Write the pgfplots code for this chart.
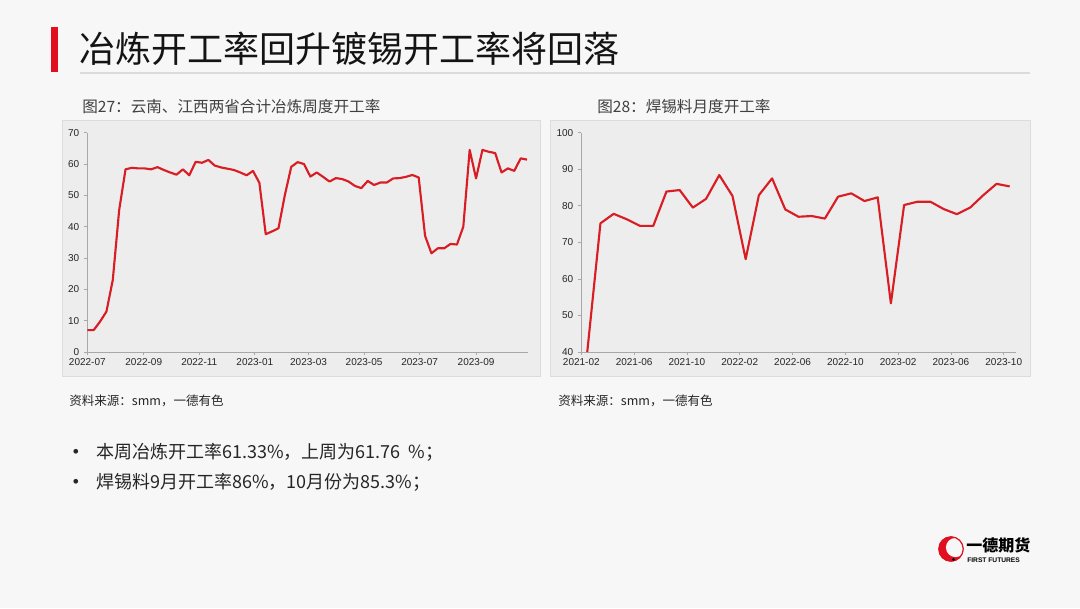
\documentclass[border=0pt]{standalone}
\usepackage{fontspec}
\usepackage{pgfplots}
\pgfplotsset{compat=1.18}
\setmainfont{Noto Sans CJK SC}
\newfontfamily\tickfont{Liberation Sans}
\definecolor{slidebg}{HTML}{F7F7F7}
\definecolor{panelbg}{HTML}{EEEDED}
\definecolor{panelbd}{HTML}{DCDCDC}
\definecolor{linered}{HTML}{D81E24}
\definecolor{barred}{HTML}{E01020}
\definecolor{axgray}{HTML}{A8A8A8}
\definecolor{txt}{HTML}{262626}

\pgfplotstableread{
x y
0 7.0
1 7.0
2 9.7
3 12.9
4 23.0
5 45.3
6 58.3
7 58.8
8 58.6
9 58.6
10 58.3
11 59.0
12 58.1
13 57.3
14 56.6
15 58.3
16 56.4
17 60.7
18 60.4
19 61.3
20 59.5
21 58.9
22 58.5
23 58.1
24 57.3
25 56.4
26 57.8
27 54.0
28 37.6
29 38.5
30 39.5
31 50.1
32 59.1
33 60.6
34 60.0
35 56.0
36 57.3
37 55.9
38 54.4
39 55.5
40 55.2
41 54.4
42 53.0
43 52.3
44 54.6
45 53.3
46 54.1
47 54.1
48 55.4
49 55.5
50 55.9
51 56.5
52 55.7
53 37.1
54 31.5
55 33.1
56 33.1
57 34.5
58 34.3
59 40.0
60 64.5
61 55.4
62 64.5
63 63.9
64 63.5
65 57.3
66 58.6
67 57.8
68 61.8
69 61.4
}\smelter

\pgfplotstableread{
x y
0.45 40.0
1.45 75.2
2.45 77.8
3.45 76.3
4.45 74.5
5.45 74.5
6.45 83.9
7.45 84.3
8.45 79.5
9.45 81.9
10.45 88.4
11.45 82.7
12.45 65.4
13.45 82.9
14.45 87.5
15.45 79.0
16.45 77.0
17.45 77.2
18.45 76.5
19.45 82.5
20.45 83.4
21.45 81.3
22.45 82.3
23.45 53.3
24.45 80.2
25.45 81.1
26.45 81.1
27.45 79.1
28.45 77.7
29.45 79.5
30.45 82.9
31.45 86.0
32.45 85.3
}\solder

\pgfplotsset{
  panelaxis/.style={
    scale only axis,
    anchor=south west,
    axis x line*=bottom,
    axis y line*=left,
    axis line style={-, draw=axgray, line width=0.6pt},
    tick style={draw=axgray, line width=0.5pt},
    tick align=outside,
    major tick length=2.5pt,
    tick label style={font=\tickfont\fontsize{7.5}{9}\selectfont, text=txt},
    /pgf/number format/assume math mode=true,
    xticklabel style={yshift=1pt},
    axis background/.style={fill=panelbg},
    clip=true,
  }
}

\begin{document}
\begin{tikzpicture}
\begin{scope}[shift={(0pt,456pt)}, x=0.75pt, y=-0.75pt]
\fill[slidebg] (0,0) rectangle (1080,608);
\fill[barred] (51,27) rectangle (58,72);
\fill[black!14] (80,72) rectangle (1030,74.5);
\node[anchor=west, inner sep=0, font=\fontsize{27}{30}\selectfont, text=black!92] at (79,49) {冶炼开工率回升镀锡开工率将回落};
\filldraw[fill=panelbg, draw=panelbd, line width=0.6pt] (62,120) rectangle (540,376);
\filldraw[fill=panelbg, draw=panelbd, line width=0.6pt] (550,120) rectangle (1030,376);
\node[anchor=west, inner sep=0, font=\fontsize{11.7}{13}\selectfont, text=black!75] at (82,107) {图27：云南、江西两省合计冶炼周度开工率};
\node[anchor=west, inner sep=0, font=\fontsize{11.7}{13}\selectfont, text=black!75] at (597,107) {图28：焊锡料月度开工率};
\node[anchor=west, inner sep=0, font=\fontsize{9.4}{11}\selectfont, text=txt] at (69,401) {资料来源：smm，一德有色};
\node[anchor=west, inner sep=0, font=\fontsize{9.4}{11}\selectfont, text=txt] at (558,401) {资料来源：smm，一德有色};
\node[anchor=center, inner sep=0, font=\tickfont\fontsize{13}{16}\selectfont, text=txt] at (76,453) {•};
\node[anchor=west, inner sep=0, font=\fontsize{13.5}{16}\selectfont, text=txt] at (96,452) {本周冶炼开工率61.33\%，上周为61.76\ \ \%；};
\node[anchor=center, inner sep=0, font=\tickfont\fontsize{13}{16}\selectfont, text=txt] at (76,483) {•};
\node[anchor=west, inner sep=0, font=\fontsize{13.5}{16}\selectfont, text=txt] at (96,482) {焊锡料9月开工率86\%，10月份为85.3\%；};
% logo
\begin{scope}
\clip (951,549) circle (12.6);
\fill[barred] (951,549) circle (12.6);
\fill[slidebg] (955.5,547.5) circle (9.6);
\foreach \r in {4,7,10,13,16} {\draw[white, line width=0.7pt] (955,562) ++(95:\r) arc (95:190:\r);}
\end{scope}
\draw[barred, line width=0.9pt] (951,549) circle (12.2);
\fill[black] (953.5,559.5) circle (1.7);
\node[anchor=west, inner sep=0, font=\bfseries\fontsize{12}{14}\selectfont, text=black] at (966,545) {一德期货};
\node[anchor=west, inner sep=0, font=\tickfont\bfseries\fontsize{5}{6}\selectfont, text=black] at (967,560.5) {FIRST FUTURES};
\end{scope}

\begin{axis}[panelaxis,
  at={(65.475pt,192pt)},
  width=330.75pt, height=164.5pt,
  xmin=0, xmax=69.2, ymin=0, ymax=70,
  ytick={0,10,...,70},
  xtick={0,8.857,17.571,26.286,34.714,43.429,52.143,61},
  xticklabels={2022-07,2022-09,2022-11,2023-01,2023-03,2023-05,2023-07,2023-09},
]
\addplot[linered, line width=1.6pt, line join=round] table[x=x,y=y] {\smelter};
\end{axis}

\begin{axis}[panelaxis,
  at={(435.975pt,192pt)},
  width=326.25pt, height=164.5pt,
  xmin=0, xmax=32.95, ymin=40, ymax=100,
  ytick={40,50,...,100},
  xtick={0,4,...,32},
  xticklabels={2021-02,2021-06,2021-10,2022-02,2022-06,2022-10,2023-02,2023-06,2023-10},
]
\addplot[linered, line width=1.6pt, line join=round] table[x=x,y=y] {\solder};
\end{axis}
\end{tikzpicture}
\end{document}
